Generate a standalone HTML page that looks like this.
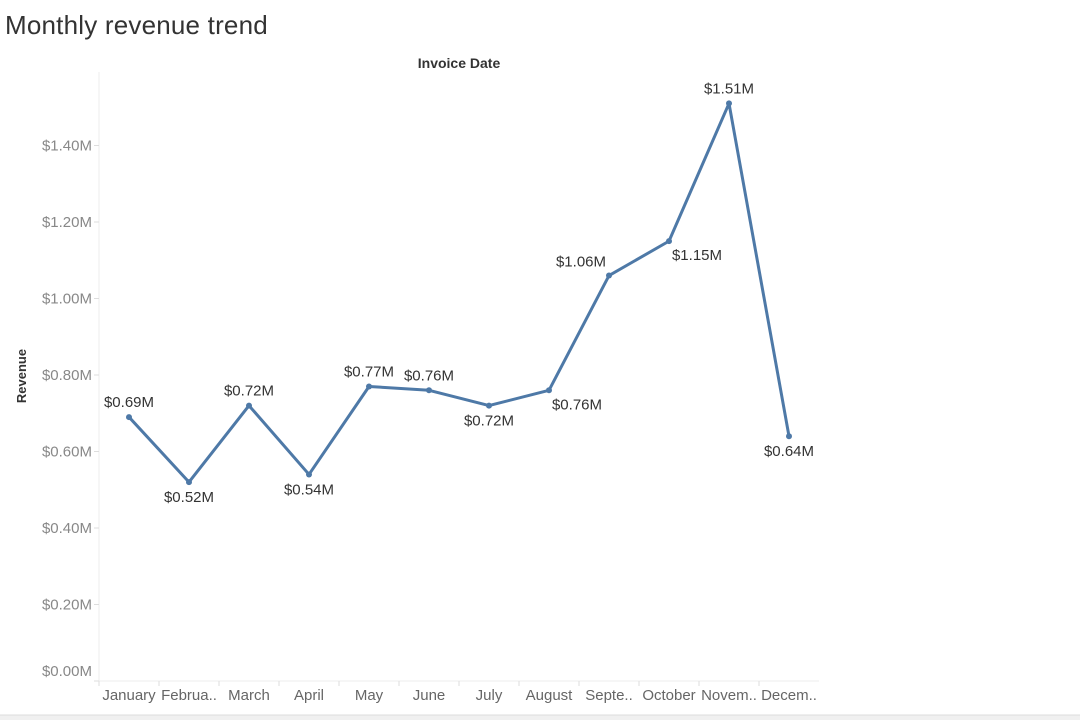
<!DOCTYPE html>
<html><head><meta charset="utf-8"><style>
body{margin:0;width:1080px;height:720px;background:#fff;overflow:hidden;font-family:"Liberation Sans",sans-serif}
#title{position:absolute;left:5px;top:10px;font-size:26px;color:#333;font-weight:300;letter-spacing:0.2px}
</style></head><body>
<div id="title">Monthly revenue trend</div>
<svg id="chart" width="1080" height="720" style="position:absolute;left:0;top:0"></svg>
<script>
const categories=["January","Februa..","March","April","May","June","July","August","Septe..","October","Novem..","Decem.."];
const revenue=[0.69,0.52,0.72,0.54,0.77,0.76,0.72,0.76,1.06,1.15,1.51,0.64];
const valueLabels=["$0.69M","$0.52M","$0.72M","$0.54M","$0.77M","$0.76M","$0.72M","$0.76M","$1.06M","$1.15M","$1.51M","$0.64M"];
const tickValues=[0,0.2,0.4,0.6,0.8,1.0,1.2,1.4];
const tickLabels=["$0.00M","$0.20M","$0.40M","$0.60M","$0.80M","$1.00M","$1.20M","$1.40M"];
const labelPlacement=["above","below","above","below","above","above","below","right","left","right","above","below"];

const svg=document.getElementById('chart');
const NS='http://www.w3.org/2000/svg';
const x0=99,colW=60,y0=681,pxPerM=382.5;
const xPos=i=>x0+colW*(i+0.5);
const yPos=v=>y0-v*pxPerM;
function el(tag,attrs,text){const e=document.createElementNS(NS,tag);for(const k in attrs)e.setAttribute(k,attrs[k]);if(text!=null)e.textContent=text;svg.appendChild(e);return e;}

let e=el('line',{x1:x0,y1:72,x2:x0,y2:y0,stroke:'#eee'});

e=el('line',{x1:x0,y1:y0,x2:x0+colW*12,y2:y0,stroke:'#eee'});

e=el('text',{x:459,y:68,'text-anchor':'middle','font-size':14,'font-weight':'bold',fill:'#333'},'Invoice Date');

e=el('text',{x:26,y:376,'text-anchor':'middle','font-size':13,'font-weight':'bold',fill:'#333',transform:'rotate(-90 26 376)'},'Revenue');


tickValues.forEach((v,i)=>{
  let y=yPos(v);
  let t=el('line',{x1:x0-5,y1:y,x2:x0,y2:y,stroke:'#ddd'});
  
  let ly=Math.min(y+5,676);
  t=el('text',{x:92,y:ly,'text-anchor':'end','font-size':15,fill:'#888'},tickLabels[i]);
  
});
categories.forEach((c,i)=>{
  let t=el('line',{x1:x0+colW*i,y1:y0,x2:x0+colW*i,y2:y0+5,stroke:'#ddd'});
  
  t=el('text',{x:xPos(i),y:700,'text-anchor':'middle','font-size':15,fill:'#666'},c);
  
});
let pts=revenue.map((v,i)=>xPos(i)+','+yPos(v)).join(' ');
e=el('polyline',{points:pts,fill:'none',stroke:'#4e79a7','stroke-width':3,'stroke-linejoin':'round'});

revenue.forEach((v,i)=>{
  let x=xPos(i),y=yPos(v);
  let c=el('circle',{cx:x,cy:y,r:3,fill:'#4e79a7'});
  
  let p=labelPlacement[i],lx=x,ly=y-10;
  if(p==='below')ly=y+20;
  if(p==='left'){lx=x-28;ly=y-9;}
  if(p==='right'){lx=x+28;ly=y+19;}
  let t=el('text',{x:lx,y:ly,'text-anchor':'middle','font-size':15,fill:'#333'},valueLabels[i]);
  
});
e=el('rect',{x:0,y:715,width:1080,height:5,fill:'#f0f0f0'});

e=el('line',{x1:0,y1:715,x2:1080,y2:715,stroke:'#ddd'});

</script>
</body></html>
